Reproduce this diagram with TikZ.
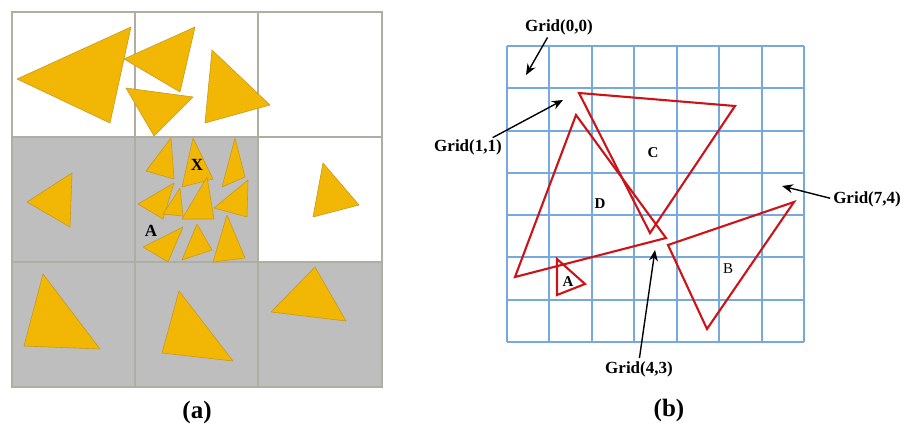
\documentclass[tikz,border=0pt]{standalone}
\usepackage{fontspec}
\setmainfont{Liberation Serif}
\usetikzlibrary{arrows.meta}
\definecolor{tri}{HTML}{F2B705}
\definecolor{triedge}{HTML}{C99A1A}
\definecolor{cellgray}{HTML}{BEBEBE}
\definecolor{gridA}{HTML}{AEAEA2}
\definecolor{gridB}{HTML}{76AADF}
\definecolor{redT}{HTML}{CC1418}
\begin{document}
\begin{tikzpicture}[x=1pt,y=-1pt,
  ytri/.style={fill=tri,draw=triedge,line width=0.6pt,line join=round},
  rtri/.style={draw=redT,line width=2.1pt,line join=miter},
  gridlineA/.style={draw=gridA,line width=1.3pt},
  gridlineB/.style={draw=gridB,line width=2pt},
  lbl/.style={font=\fontsize{17}{17}\selectfont\bfseries,inner sep=0pt},
  tlbl/.style={font=\fontsize{15}{15}\selectfont\bfseries,inner sep=0pt},
  captxt/.style={font=\fontsize{25}{25}\selectfont\bfseries,inner sep=0pt},
  arr/.style={-{Stealth[length=11pt,width=9pt]},line width=1.4pt,black}]
\useasboundingbox (0,0) rectangle (913,425);
\fill[white] (0,0) rectangle (913,425);
% ---------- panel (a) ----------
\fill[cellgray] (12,137) rectangle (258,262);
\fill[cellgray] (12,262) rectangle (382,387);
\draw[gridlineA] (12,12) rectangle (382,387);
\draw[gridlineA] (135,12) -- (135,387);
\draw[gridlineA] (258,12) -- (258,387);
\draw[gridlineA] (12,137) -- (382,137);
\draw[gridlineA] (12,262) -- (382,262);
% row 1
\filldraw[ytri] (17,79) -- (131,27) -- (110,123) -- cycle;
\filldraw[ytri] (124,59) -- (195,27) -- (180,92) -- cycle;
\filldraw[ytri] (126,88) -- (193,97) -- (154,136) -- cycle;
\filldraw[ytri] (212,50) -- (270,105) -- (205,123) -- cycle;
% row 2
\filldraw[ytri] (27,202) -- (72,173) -- (70,227) -- cycle;
\filldraw[ytri] (323,163) -- (359,205) -- (313,217) -- cycle;
\filldraw[ytri] (146,171) -- (171,138) -- (174,179) -- cycle;
\filldraw[ytri] (182,187) -- (193,138) -- (213,179) -- cycle;
\filldraw[ytri] (222,187) -- (235,138) -- (245,177) -- cycle;
\filldraw[ytri] (138,204) -- (174,183) -- (163,219) -- cycle;
\filldraw[ytri] (163,214) -- (180,188) -- (183,216) -- cycle;
\filldraw[ytri] (182,219) -- (207,177) -- (214,219) -- cycle;
\filldraw[ytri] (214,208) -- (248,180) -- (247,217) -- cycle;
\filldraw[ytri] (143,247) -- (183,227) -- (168,262) -- cycle;
\filldraw[ytri] (182,260) -- (197,224) -- (212,250) -- cycle;
\filldraw[ytri] (213,262) -- (227,215) -- (245,258) -- cycle;
\node[lbl] (X) at (197,165) {X};
\node[lbl] (Aa) at (151,231) {A};
% row 3
\filldraw[ytri] (24,346) -- (43,274) -- (100,349) -- cycle;
\filldraw[ytri] (162,353) -- (179,291) -- (233,361) -- cycle;
\filldraw[ytri] (271,312) -- (315,267) -- (346,321) -- cycle;
\node[captxt] (capa) at (197,412) {(a)};
% ---------- panel (b) ----------
\foreach \i in {0,...,7} {
  \draw[gridlineB] ({507+\i*297/7},46) -- ({507+\i*297/7},342);
  \draw[gridlineB] (507,{46+\i*296/7}) -- (804,{46+\i*296/7});
}
\draw[rtri] (579,93) -- (735,106) -- (650,233) -- cycle;
\draw[rtri] (576,115) -- (666,238) -- (515,277) -- cycle;
\draw[rtri] (557,259) -- (585,284) -- (557,295) -- cycle;
\draw[rtri] (668,245) -- (794,202) -- (707,329) -- cycle;
\node[tlbl] (C) at (653,153) {C};
\node[tlbl] (D) at (600,204) {D};
\node[tlbl] (Ab) at (568,282) {A};
\node[font=\fontsize{15}{15}\selectfont,inner sep=0pt] (B) at (728,269) {B};
\node[lbl] (g00) at (559,27) {Grid(0,0)};
\node[lbl] (g11) at (468,147) {Grid(1,1)};
\node[lbl] (g74) at (867,199) {Grid(7,4)};
\node[lbl] (g43) at (639,369) {Grid(4,3)};
\coordinate (g00t) at (526,75);
\coordinate (g11t) at (563,100);
\coordinate (g74t) at (782,186);
\coordinate (g43t) at (655,250);
\draw[arr,shorten <=3pt] ([xshift=-10pt]g00.south) -- (g00t);
\draw[arr,shorten <=3pt] ([xshift=-12pt]g11.north east) -- (g11t);
\draw[arr,shorten <=3pt] (g74.west) -- (g74t);
\draw[arr,shorten <=3pt] (g43.north) -- (g43t);
\node[captxt] (capb) at (669,410) {(b)};
\end{tikzpicture}
\end{document}
